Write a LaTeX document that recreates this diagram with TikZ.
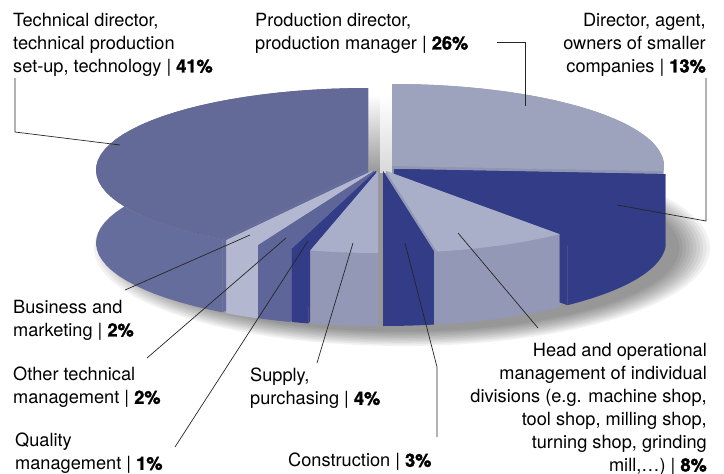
\documentclass[tikz,border=0pt]{standalone}
\usepackage{fontspec}
\setmainfont{TeX Gyre Heros}[BoldFeatures={FakeBold=1.6}]
\usetikzlibrary{positioning}

\definecolor{slate}{HTML}{636A98}
\definecolor{slateside}{HTML}{656D9C}
\definecolor{greyblue}{HTML}{9DA2BD}
\definecolor{greyblueside}{HTML}{9095B2}
\definecolor{navy}{HTML}{323C87}
\definecolor{pale}{HTML}{A9AEC9}
\definecolor{paleside}{HTML}{9398B6}
\definecolor{palest}{HTML}{B3B7CF}
\definecolor{midblue}{HTML}{5E6699}

% one exploded slice: start, end, dx, dy, top colour, side colour
\newcommand{\pieslice}[6]{%
  \begin{scope}[shift={(#3,#4)}]
    \fill[#6] (380,168) -- ({380+272*cos(#1)},{168-82*sin(#1)}) -- ++(0,73) -- (380,241) -- cycle;
    \fill[#6] (380,168) -- ({380+272*cos(#2)},{168-82*sin(#2)}) -- ++(0,73) -- (380,241) -- cycle;
    \fill[#6] plot[domain=#1:#2, samples=40] ({380+272*cos(\x)},{168-82*sin(\x)})
      -- plot[domain=#2:#1, samples=40] ({380+272*cos(\x)},{241-82*sin(\x)}) -- cycle;
    \fill[#5] (380,168) -- plot[domain=#1:#2, samples=40] ({380+272*cos(\x)},{168-82*sin(\x)}) -- cycle;
  \end{scope}}

\begin{document}
\begin{tikzpicture}[
    x=1pt,
    y=-1pt,
    txt/.style={inner sep=0pt, font=\fontsize{18.2}{23}\selectfont},
    lefttxt/.style={txt, align=left, anchor=north west},
    righttxt/.style={txt, align=right, anchor=north east},
    leader/.style={draw=black!85, line width=0.7pt}
]
    \useasboundingbox (0,0) rectangle (724,474);

    % soft shadow under the pie
    \foreach \i in {0,...,9}
        \fill[black, opacity=0.05] (402,248) ellipse [x radius={308pt-3.4pt*\i}, y radius={98pt-1.6pt*\i}];

    % gap between the two back slices
    \shade[top color=white, bottom color=black!40] (368,95) rectangle (380,172);
    \shade[top color=white, bottom color=black!15] (380,95) rectangle (392,172);

    % slices, back to front
    \pieslice{-3.6}{90}{12}{-2}{greyblue}{greyblueside}
    \pieslice{90}{237.6}{-12}{2}{slate}{slateside}
    \pieslice{-50.4}{-3.6}{14}{1}{navy}{navy}
    \pieslice{237.6}{244.8}{-8}{3}{palest}{palest}
    \pieslice{-79.2}{-50.4}{6}{3}{pale}{paleside}
    \pieslice{244.8}{252}{-6}{3}{midblue}{midblue}
    \pieslice{252}{255.6}{-4}{3}{navy}{navy}
    \pieslice{255.6}{270}{-2}{3}{pale}{paleside}
    \pieslice{270}{280.8}{3}{3}{navy}{navy}

    % labels
    \node[lefttxt] (t41) at (13,13) {Technical director,\\technical production\\set-up, technology | \textbf{41\%}};
    \node[lefttxt] (t26) at (255,13) {Production director,\\production manager | \textbf{26\%}};
    \node[righttxt] (t13) at (706,13) {Director, agent,\\owners of smaller\\companies | \textbf{13\%}};
    \node[lefttxt] (tbus) at (13,300) {Business and\\marketing | \textbf{2\%}};
    \node[lefttxt] (toth) at (13,367) {Other technical\\management | \textbf{2\%}};
    \node[lefttxt] (tqua) at (15,433) {Quality\\management | \textbf{1\%}};
    \node[lefttxt] (tsup) at (250,368) {Supply,\\purchasing | \textbf{4\%}};
    \node[lefttxt] (tcon) at (288,453) {Construction | \textbf{3\%}};
    \node[righttxt] (thead) at (707,343) {Head and operational\\management of individual\\divisions (e.g. machine shop,\\tool shop, milling shop,\\turning shop, grinding\\mill,\ldots) | \textbf{8\%}};

    % leader ends
    \coordinate (s41) at (15,78);   \coordinate (b41) at (15,132);  \coordinate (e41) at (120,145);
    \coordinate (s26) at (497,42);  \coordinate (e26) at (525,106);
    \coordinate (s13) at (706,78);  \coordinate (b13) at (706,221); \coordinate (e13) at (617,205);
    \coordinate (sbus) at (125,290); \coordinate (ebus) at (250,235);
    \coordinate (soth) at (147,358); \coordinate (eoth) at (286,238);
    \coordinate (squa) at (175,447); \coordinate (equa) at (308,241);
    \coordinate (ssup) at (317,363); \coordinate (esup) at (353,243);
    \coordinate (scon) at (437,437); \coordinate (bcon) at (437,367); \coordinate (econ) at (405,243);
    \coordinate (shead) at (538,328); \coordinate (ehead) at (458,233);

    % leaders
    \draw[leader] (s41) -- (b41) -- (e41);
    \draw[leader] (s26) -| (e26);
    \draw[leader] (s13) -- (b13) -- (e13);
    \draw[leader] (sbus) -- (ebus);
    \draw[leader] (soth) -- (eoth);
    \draw[leader] (squa) -- (equa);
    \draw[leader] (ssup) -- (esup);
    \draw[leader] (scon) -- (bcon) -- (econ);
    \draw[leader] (shead) -- (ehead);
\end{tikzpicture}
\end{document}
